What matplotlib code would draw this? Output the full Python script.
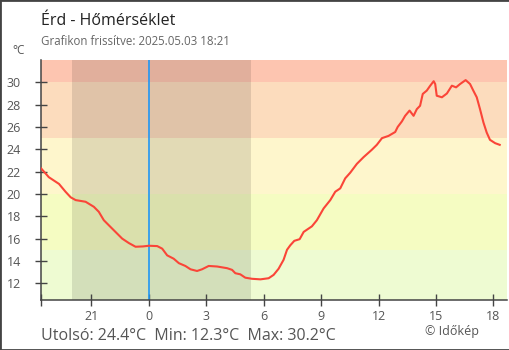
import matplotlib
matplotlib.use('Agg')
import matplotlib.pyplot as plt
from matplotlib.patches import Rectangle

plt.rcParams['font.family'] = ['Open Sans', 'DejaVu Sans']

# hours relative to midnight (negative = previous evening)
hours = [-5.63, -5.22, -4.69, -4.35, -4.08, -3.82, -3.30, -2.87, -2.61, -2.35,
         -2.09, -1.74, -1.39, -1.04, -0.69, -0.30, 0.00, 0.44, 0.70, 0.96,
         1.30, 1.57, 1.91, 2.18, 2.52, 2.78, 3.13, 3.57, 4.09, 4.35,
         4.52, 4.78, 5.04, 5.39, 5.83, 6.26, 6.52, 6.78, 7.04, 7.22,
         7.39, 7.60, 7.88, 8.09, 8.52, 8.78, 9.13, 9.48, 9.74, 10.00,
         10.26, 10.52, 10.87, 11.22, 11.65, 11.91, 12.18, 12.52, 12.87, 13.00,
         13.22, 13.39, 13.62, 13.83, 14.00, 14.17, 14.31, 14.52, 14.70, 14.88,
         14.96, 15.04, 15.31, 15.57, 15.83, 16.05, 16.26, 16.55, 16.78, 16.95,
         17.13, 17.30, 17.48, 17.65, 17.82, 18.09, 18.33]
temps = [22.3, 21.5, 20.9, 20.2, 19.7, 19.45, 19.3, 18.85, 18.4, 17.65,
         17.2, 16.6, 16.0, 15.6, 15.27, 15.3, 15.36, 15.33, 15.1, 14.5,
         14.2, 13.8, 13.55, 13.25, 13.1, 13.25, 13.55, 13.5, 13.35, 13.2,
         12.9, 12.8, 12.5, 12.4, 12.35, 12.45, 12.75, 13.3, 14.1, 15.0,
         15.4, 15.8, 15.95, 16.6, 17.1, 17.65, 18.7, 19.45, 20.2, 20.5,
         21.4, 21.9, 22.7, 23.3, 23.96, 24.4, 25.0, 25.2, 25.55, 26.0,
         26.5, 27.0, 27.47, 27.0, 27.6, 27.9, 28.96, 29.26, 29.7, 30.1,
         29.85, 28.8, 28.66, 29.0, 29.7, 29.55, 29.85, 30.2, 29.85, 29.26,
         28.66, 27.6, 26.4, 25.5, 24.85, 24.55, 24.4]

xtick_pos = [-3, 0, 3, 6, 9, 12, 15, 18]
xtick_labels = ['21', '0', '3', '6', '9', '12', '15', '18']
ytick_pos = [12, 14, 16, 18, 20, 22, 24, 26, 28, 30]

band_edges = [10.5, 15, 20, 25, 30, 32]
band_colors = ['#eefbd2', '#f5fcc2', '#fef6cc', '#fcdcbd', '#fdc5b0']

sunset, sunrise = -4.0, 5.36
x_start, x_end = -5.63, 18.71

fig = plt.figure(figsize=(5.1, 3.5), dpi=100)
ax = fig.add_axes([41/510, 50/350, 466/510, 240/350])

for lo, hi, c in zip(band_edges[:-1], band_edges[1:], band_colors):
    ax.axhspan(lo, hi, color=c, lw=0, zorder=0)
ax.axvspan(sunset, sunrise, color='black', alpha=0.11, lw=0, zorder=1)
ax.axvline(0, color='#2196f3', lw=1.2, zorder=2)

ax.plot(hours, temps, color='#fa4538', lw=1.5, zorder=3)

ax.set_xlim(x_start, x_end)
ax.set_ylim(10.5, 32)
ax.set_xticks([x_start] + xtick_pos)
ax.set_xticklabels([''] + xtick_labels)
ax.set_yticks(ytick_pos)
for s in ['top', 'right']:
    ax.spines[s].set_visible(False)
for s in ['left', 'bottom']:
    ax.spines[s].set_color('#444444')
    ax.spines[s].set_linewidth(1.1)
ax.tick_params(axis='both', direction='inout', length=9, width=1,
               color='#444444', labelcolor='#555555', labelsize=9)
ax.tick_params(axis='y', pad=10)
ax.tick_params(axis='x', pad=3)

fig.text(41/510, 1-25/350, 'Érd - Hőmérséklet', fontsize=11.5, color='#222222')
fig.text(41/510, 1-45/350, 'Grafikon frissítve: 2025.05.03 18:21', fontsize=8.3, color='#666666')
fig.text(12/510, 1-54/350, '°C', fontsize=8.5, color='#555555')
fig.text(41/510, 1-340/350, 'Utolsó: 24.4°C  Min: 12.3°C  Max: 30.2°C', fontsize=11.5, color='#555555')
fig.text(425/510, 1-335/350, '© Időkép', fontsize=9, color='#555555')

fig.patches.append(Rectangle((0, 0), 1, 1, transform=fig.transFigure, fill=False,
                             edgecolor='#444444', lw=2))

fig.savefig('out.png', dpi=100)
